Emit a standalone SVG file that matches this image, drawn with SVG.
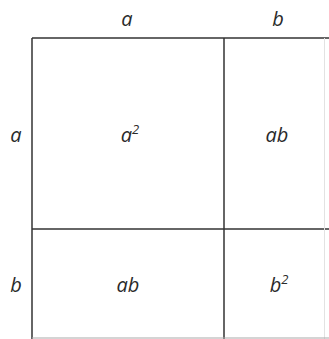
<svg xmlns="http://www.w3.org/2000/svg" width="329" height="339" viewBox="0 0 329 339">
<style>
text{font-family:"Open Sans","DejaVu Sans",sans-serif;font-style:italic;font-size:20px;fill:#2a2a2a;text-anchor:middle}
.ln{stroke:#333;stroke-width:1.5;fill:none}
.lt{stroke:#e2e2e2;stroke-width:1;fill:none}
.lb{stroke:#aaa;stroke-width:1.2;fill:none}
tspan.s{font-size:13px}
</style>
<rect width="329" height="339" fill="#fff"/>
<g id="connectors">
<line class="ln" x1="32" y1="38" x2="329" y2="38"/>
<line class="ln" x1="32" y1="38" x2="32" y2="339"/>
<line class="ln" x1="224" y1="38" x2="224" y2="339"/>
<line class="ln" x1="32" y1="229" x2="329" y2="229"/>
<line class="lt" x1="324.5" y1="38" x2="324.5" y2="339"/>
<line class="lb" x1="32" y1="338" x2="329" y2="338"/>
</g>
<g id="label-top-a"><text x="127" y="26">a</text></g>
<g id="label-top-b"><text x="278" y="26">b</text></g>
<g id="label-left-a"><text x="16" y="142">a</text></g>
<g id="label-left-b"><text x="16" y="292">b</text></g>
<g id="cell-a2"><text x="130" y="142">a<tspan class="s" dy="-8">2</tspan></text></g>
<g id="cell-ab1"><text x="277" y="142">ab</text></g>
<g id="cell-ab2"><text x="128" y="292">ab</text></g>
<g id="cell-b2"><text x="279" y="292">b<tspan class="s" dy="-8">2</tspan></text></g>
</svg>
